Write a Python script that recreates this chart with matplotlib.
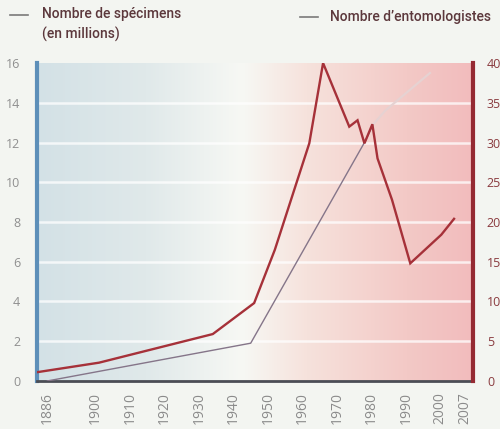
import numpy as np
import matplotlib
matplotlib.use("Agg")
import matplotlib.pyplot as plt
from matplotlib.colors import LinearSegmentedColormap

# ---- data ----
years_ent = [1883, 1901, 1934, 1946, 1952, 1962, 1966, 1973.6, 1976, 1978, 1980.3, 1981.8, 1986, 1991.3, 2000.3, 2004]
values_ent = [1.1, 2.3, 5.9, 9.8, 16.5, 29.9, 40, 32.0, 32.8, 29.9, 32.3, 28.0, 22.8, 14.8, 18.4, 20.4]

years_spec = [1886, 1945, 1978, 1980.5, 1984, 1997]
values_spec = [0, 1.9, 12.0, 12.9, 13.6, 15.5]

year_ticks = [1886, 1900, 1910, 1920, 1930, 1940, 1950, 1960, 1970, 1980, 1990, 2000, 2007]
left_ticks = [0, 2, 4, 6, 8, 10, 12, 14, 16]
right_ticks = [0, 5, 10, 15, 20, 25, 30, 35, 40]

label_spec = "Nombre de spécimens\n(en millions)"
label_ent = "Nombre d\u2019entomologistes"

# ---- style ----
fig_bg = "#f3f5f1"
red = "#a63139"
thin = "#857589"
legfont = ["Roboto", "DejaVu Sans"]
numfont = ["Open Sans", "DejaVu Sans"]

fig = plt.figure(figsize=(5.0, 4.29), dpi=100, facecolor=fig_bg)
ax = fig.add_axes([0.074, 0.112, 0.872, 0.741])
ax.set_facecolor("none")

# background gradient
cmap = LinearSegmentedColormap.from_list(
    "bg", [(0.0, "#d3e1e6"), (0.25, "#e0e9ea"), (0.47, "#f7f8f4"),
           (0.62, "#f6e2dc"), (0.85, "#f3c9c6"), (1.0, "#f2bcbd")])
grad = np.linspace(0, 1, 256).reshape(1, -1)
ax.imshow(grad, aspect="auto", cmap=cmap, extent=[0, 1, 0, 1],
          transform=ax.transAxes, zorder=0)

ax.set_xlim(1883, 2009.5)
ax.set_ylim(0, 16)

# gridlines
for t in left_ticks[1:-1]:
    ax.axhline(t, color="white", lw=1.8, alpha=0.75, zorder=1)

ax2 = ax.twinx()
ax2.set_ylim(0, 40)
ax2.set_facecolor("none")

# specimens (thin line, left axis)
ax.plot(years_spec[:4], values_spec[:4], color=thin, lw=1.0, zorder=3)
ax.plot(years_spec[3:], values_spec[3:], color="#e6d2d2", lw=1.6, zorder=3)

# entomologists (red line, right axis)
ax2.plot(years_ent, values_ent, color=red, lw=1.7, zorder=4, solid_joinstyle="miter")

# spines
for a in (ax, ax2):
    for s in a.spines.values():
        s.set_visible(False)
ax.spines["left"].set_visible(True)
ax.spines["left"].set_color("#5d8fb9")
ax.spines["left"].set_linewidth(3)
ax.spines["bottom"].set_visible(True)
ax.spines["bottom"].set_color("#4b4d55")
ax.spines["bottom"].set_linewidth(2)
ax2.spines["right"].set_visible(True)
ax2.spines["right"].set_color("#952a33")
ax2.spines["right"].set_linewidth(3)

# ticks
ax.set_xticks(year_ticks)
ax.set_xticklabels([str(y) for y in year_ticks], rotation=90, fontsize=10,
                   color="#8b8b8b", family=numfont)
ax.set_yticks(left_ticks)
ax.set_yticklabels([str(v) for v in left_ticks], fontsize=9, color="#8f8f8f", family=numfont)
ax2.set_yticks(right_ticks)
ax2.set_yticklabels([str(v) for v in right_ticks], fontsize=9, color="#8a3b3f", family=numfont)
ax.tick_params(axis="both", length=0)
ax.tick_params(axis="x", pad=8)
ax.tick_params(axis="y", pad=12)
ax2.tick_params(axis="y", length=0, pad=10)

# legend
fig.add_artist(plt.Line2D([10/500, 28/500], [1-15/429, 1-15/429], color="#7a7a7a", lw=1.2))
fig.text(42/500, 1-7/429, label_spec, fontsize=10, color="#5c383c", family=legfont,
         weight="medium", va="top", ha="left", linespacing=1.45)
fig.add_artist(plt.Line2D([300/500, 318/500], [1-17/429, 1-17/429], color="#7a7a7a", lw=1.2))
fig.text(330/500, 1-17/429, label_ent, fontsize=10, color="#5c383c", family=legfont,
         weight="medium", va="center", ha="left")

fig.savefig("out.png", dpi=100, facecolor=fig_bg)
